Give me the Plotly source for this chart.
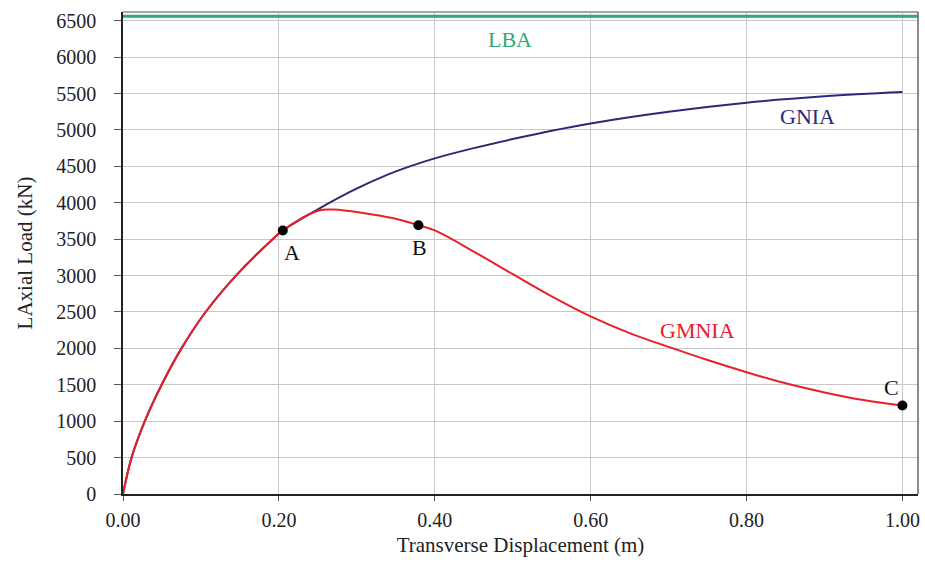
import plotly.graph_objects as go

# GMNIA curve (red)
gmnia_x = [0, 0.011, 0.028, 0.0496, 0.075, 0.106, 0.145, 0.192, 0.205, 0.25, 0.269, 0.32, 0.35,
           0.379, 0.4, 0.45, 0.5, 0.55, 0.6, 0.65, 0.7, 0.75, 0.8, 0.85, 0.9, 0.95, 1.0]
gmnia_y = [0, 500, 1000, 1500, 2000, 2500, 3000, 3500, 3620, 3890, 3908, 3840, 3780,
           3692, 3620, 3330, 3020, 2715, 2440, 2210, 2020, 1840, 1673, 1520, 1395, 1290, 1215]

# GNIA curve (blue)
gnia_x = [0, 0.011, 0.028, 0.0496, 0.075, 0.106, 0.145, 0.192, 0.205, 0.25, 0.295, 0.338, 0.368,
          0.4, 0.45, 0.5, 0.55, 0.6, 0.7, 0.8, 0.9, 1.0]
gnia_y = [0, 500, 1000, 1500, 2000, 2500, 3000, 3500, 3620, 3910, 4170, 4380, 4500,
          4610, 4750, 4875, 4990, 5090, 5250, 5375, 5462, 5520]

# LBA level (green)
lba_x = [0, 1.02]
lba_y = [6560, 6560]

# Marked points
pt_labels = ["A", "B", "C"]
pt_x = [0.205, 0.379, 1.0]
pt_y = [3620, 3692, 1215]

x_ticks = [0, 0.2, 0.4, 0.6, 0.8, 1.0]
y_ticks = list(range(0, 7000, 500))

FONT = "Liberation Serif"
tickfont = dict(family=FONT, size=20, color="#222222")

fig = go.Figure()
fig.add_trace(go.Scatter(x=lba_x, y=lba_y, mode="lines",
                         line=dict(color="#2eaa78", width=3), showlegend=False, hoverinfo="skip"))
fig.add_trace(go.Scatter(x=gnia_x, y=gnia_y, mode="lines",
                         line=dict(color="#2a2a78", width=2, shape="spline", smoothing=1.0),
                         showlegend=False))
fig.add_trace(go.Scatter(x=gmnia_x, y=gmnia_y, mode="lines",
                         line=dict(color="#e8202a", width=2, shape="spline", smoothing=1.0),
                         showlegend=False))
fig.add_trace(go.Scatter(x=pt_x, y=pt_y, mode="markers",
                         marker=dict(color="black", size=10), showlegend=False))

ann = [
    dict(x=0.496, y=6237, text="LBA", color="#2eaa78"),
    dict(x=0.878, y=5180, text="GNIA", color="#2a2a78"),
    dict(x=0.737, y=2248, text="GMNIA", color="#e8202a"),
    dict(x=0.2165, y=3320, text=pt_labels[0], color="#111111"),
    dict(x=0.3805, y=3390, text=pt_labels[1], color="#111111"),
    dict(x=0.9865, y=1465, text=pt_labels[2], color="#111111"),
]
for a in ann:
    fig.add_annotation(x=a["x"], y=a["y"], text=a["text"], showarrow=False,
                       font=dict(family=FONT, size=22, color=a["color"]),
                       xanchor="center", yanchor="middle")

# top and right border
fig.add_shape(type="line", xref="x domain", yref="y domain", x0=0, x1=1, y0=1, y1=1,
              line=dict(color="#8a8a80", width=1.5))
fig.add_shape(type="line", xref="x domain", yref="y domain", x0=1, x1=1, y0=0, y1=1,
              line=dict(color="#666666", width=1.5))

fig.update_layout(
    width=925, height=565,
    margin=dict(l=123, r=7, t=12, b=71),
    paper_bgcolor="white", plot_bgcolor="white",
    font=dict(family=FONT, size=20, color="#222222"),
    xaxis=dict(range=[0, 1.02], tickvals=x_ticks, tickformat=".2f", tickfont=tickfont,
               showgrid=True, gridcolor="#c8c8c8", gridwidth=1,
               showline=True, linecolor="#222222", linewidth=1.5,
               ticks="outside", ticklen=5, tickcolor="#555555",
               ticklabelstandoff=2, zeroline=False, automargin=False,
               title=dict(text="Transverse Displacement (m)", font=dict(family=FONT, size=21),
                          standoff=8)),
    yaxis=dict(range=[0, 6620], tickvals=y_ticks, tickfont=tickfont,
               showgrid=True, gridcolor="#c8c8c8", gridwidth=1,
               showline=True, linecolor="#222222", linewidth=1.5,
               ticks="outside", ticklen=7, tickcolor="#555555",
               ticklabelstandoff=14, zeroline=False, automargin=False,
               title=dict(text="LAxial Load (kN)", font=dict(family=FONT, size=21),
                          standoff=18)),
)

fig.write_html("out.html", config={"displayModeBar": False},
               post_script="document.body.style.margin='0';document.body.style.overflow='hidden';")
